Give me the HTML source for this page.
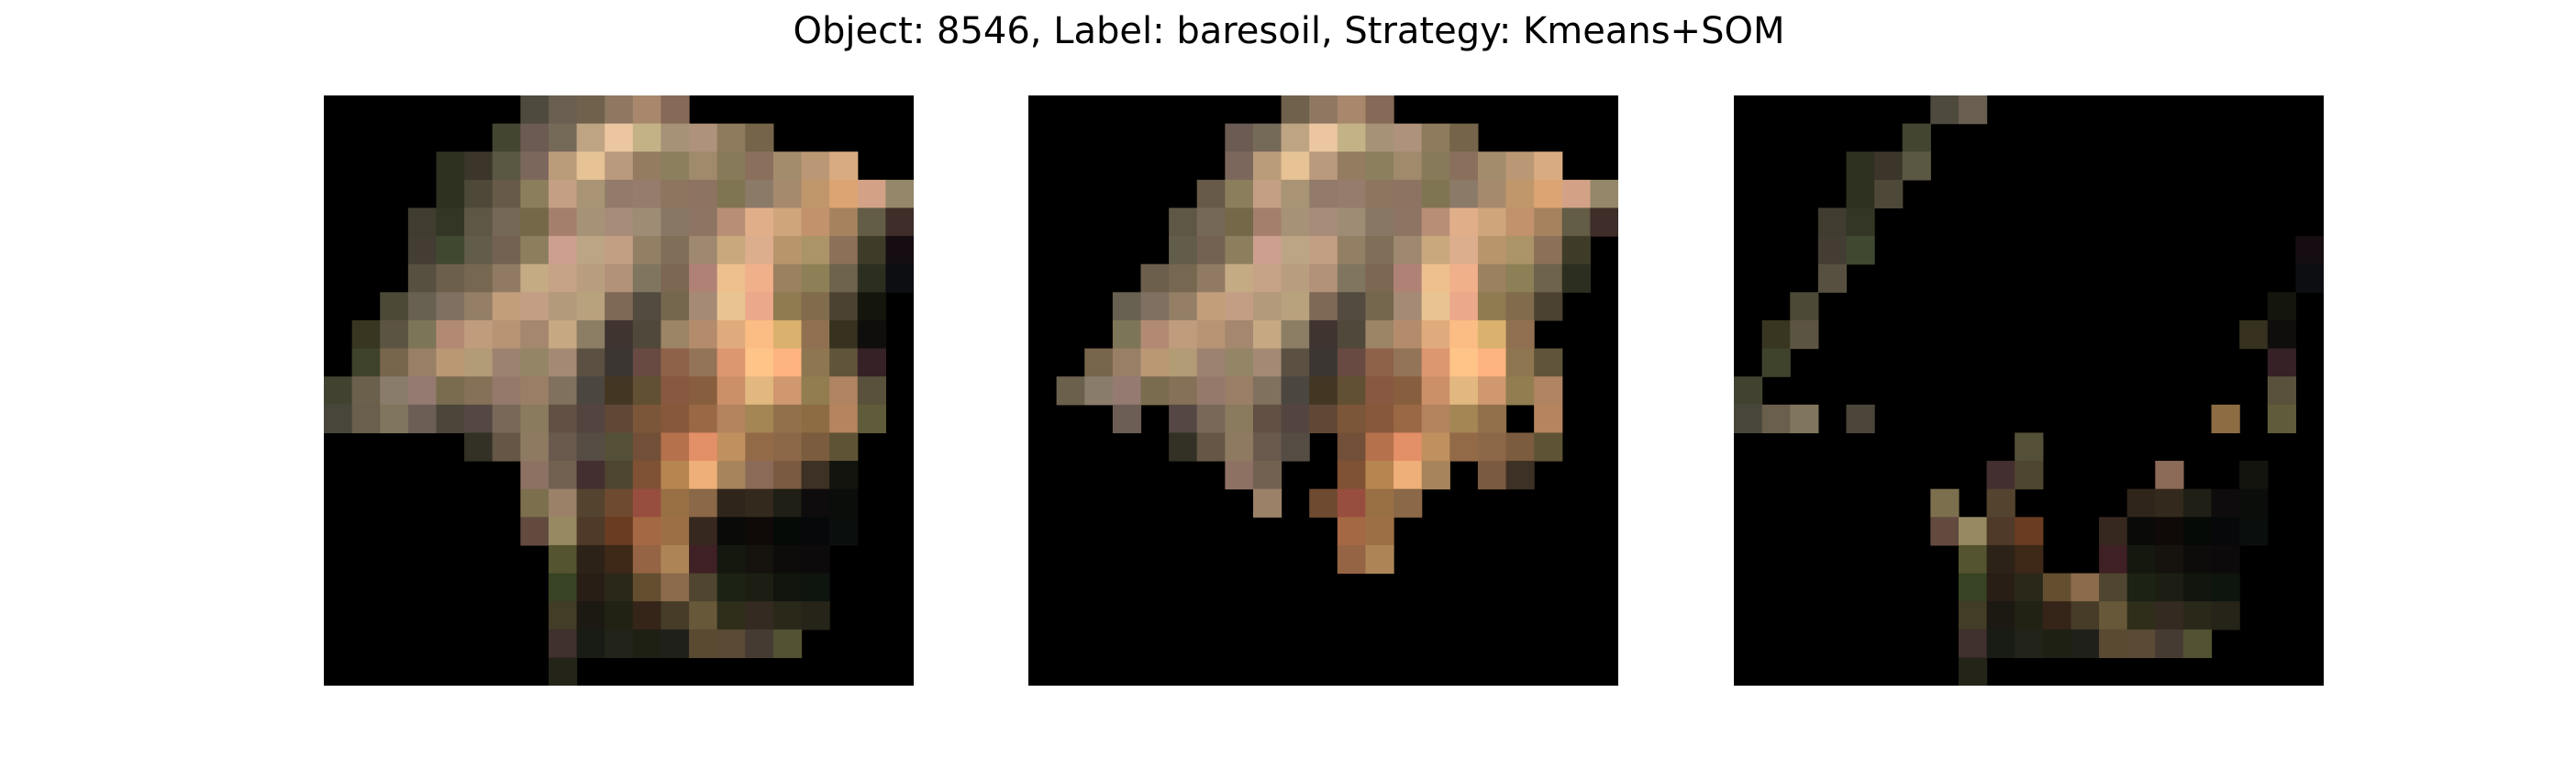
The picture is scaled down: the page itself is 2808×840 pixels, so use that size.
<!DOCTYPE html>
<html><head><meta charset="utf-8"><style>
html,body{margin:0;padding:0;background:#fff;width:2808px;height:840px;overflow:hidden}
</style></head><body>
<svg id="fig" width="2808" height="840" xmlns="http://www.w3.org/2000/svg">
<rect width="2808" height="840" fill="#fff"/>
<text x="1405" y="47" text-anchor="middle" font-family="DejaVu Sans, Liberation Sans, sans-serif" font-size="40" fill="#000">Object: 8546, Label: baresoil, Strategy: Kmeans+SOM</text>
</svg>
<script>
// per row: columns of kept pixels and outlier pixels (ranges "a-b")
const keptCols = [
"9-12","7-15","7-18","6-20","5-20","5-19","4-19","3-18","3-17","2-18","1-18",
"3,5-16,18","5-9,11-18","7,8,11-14,16,17","8,10-13","11,12","11,12","","","",""
];
const outlierCols = [
"7,8","6","4-6","4,5","3,4","3,4,20","3,20","2,19","1,2,18,19","1,19","0,19",
"0-2,4,17,19","10","9,10,15,18","7,9,14-18","7-10,13-18","8-10,13-17","8-17","8-17","8-16","8"
];
// colours of all non-empty pixels per row, in column order
const colorRows = [
"4f4a3e 6a5e50 6f614c 8e7862 a8876c 876958",
"444530 6b5b52 756958 bea482 ecc6a0 c4b287 a69276 ae927c 8e7a5c 75644a",
"2e3020 3c352a 5a5843 7b675c bb9c7a e6c294 ba9a7e 937c60 8c7f5e a08a6c 877a5a 8a705c a28c6c bb9875 d9ab82",
"2e3020 4e4838 675a48 8a7e5c c49f84 a89474 927b6a 957c6c 8d755f 8d7362 807552 8c7a68 a68a6e c0976a dca472 d3a286 958769",
"403d30 333525 5f5746 766856 746849 a37f6c a69276 a78c7a 9e8c74 887764 8e7462 b88f76 e0af8a cfa67c c1926c a6835e 635c46 3e2d28",
"433d33 404830 625c4a 736252 8d7f5e cd9f90 bba584 c29e82 937f64 806e58 9f8870 caa87e ddae8e b9956c ab9468 8d7058 3e3c28 150d12",
"575040 6c5f4c 766850 907a64 c5ab84 c6a286 b89e7e b29278 807660 7c6752 b08276 edc08e f0b08a 9c8160 8e8056 6e634c 2c2e20 0d0e12",
"4c4a36 686050 7f7062 947f66 c29e7a c49e84 b29a7a b8a27e 7e6856 534a40 75664e a58a76 e8c492 eca88a 8f7b50 806c4c 4b4232 14160e",
"383620 5c5442 7d7558 b28a74 c09c7c b89474 a4876e c6a882 8c7e64 3f3430 50483a 9c8466 b48c6c e0ab7c fcbd84 dab26e 907050 36321f 100e0c",
"3f432c 77654c 987f66 ba9874 b29c76 9c8270 948566 a48a74 5c5042 3c3632 684a42 8e6248 947458 dc9670 fec488 fdb380 8e7650 60553b 352126",
"414330 6a604c 8a7c6a 947a70 7a6c4e 857058 957a6c 9a7e66 80705e 4c4640 433622 625034 885840 875f3e cc9068 e2b880 cf986e 917d50 b08462 59513b",
"48463a 6a5e4c 80765e 6c5e54 4c463a 554844 796858 8a7a5e 625044 544440 614836 7c5638 87583a 9a6844 b3835e a48654 92704c 8d6c44 b6845e 5f5b3b",
"333126 655646 8e7a60 6a5a4e 554c44 545038 724f38 b5714c e38f68 c0905e 936a48 8c6848 7c5c3e 5e5334",
"8d7264 726150 432e30 4e4530 805234 b78550 eeb078 a8845c 8c6a58 7a5a40 3d3024 14140e",
"7c6f4e 9a8168 54432f 6e4a30 984e3e 997044 8a6848 30251a 33291c 1f1f16 0e0c0c 0a0d0a",
"634a3f 978a62 4f3a2a 6a3c22 a56844 9c7044 36281e 0a0a08 0f0a08 060a06 07080a 0a0e0c",
"545530 2d2218 3e2818 956444 ac8456 3f2024 14180e 16120e 0e0c0a 0c0a0a",
"384324 281e16 2a2818 634f30 8c6a4c 4f4530 1c2214 1c1e14 12140e 0e140e",
"433c26 1c1812 222214 352418 463c28 665838 2e2e1a 352a22 2a2818 262418",
"40302e 181c14 22241a 1f2014 20201a 5a4a32 5a4a36 453b32 525232",
"242418"
];
const panelNames = ["original-image", "kept-pixels-image", "outlier-pixels-image"];
const panelShow = [["k","o"], ["k"], ["o"]];

const NS = "http://www.w3.org/2000/svg";
const svg = document.getElementById('fig');
const nGrid = 21;
const panelX = [353, 1121, 1890], panelY = 104, panelSize = 643;
const cell = panelSize / nGrid;
function xPos(p, c){ return panelX[p] + c * cell; }
function yPos(r){ return panelY + r * cell; }
function parseCols(s){
  const out = [];
  if (!s) return out;
  s.split(',').forEach(part => {
    if (part.includes('-')) { const [a,b] = part.split('-').map(Number); for (let i=a;i<=b;i++) out.push(i); }
    else out.push(Number(part));
  });
  return out;
}
// build per-row cell type map
const typeMap = [];
for (let r = 0; r < nGrid; r++) {
  const row = new Array(nGrid).fill(null);
  parseCols(keptCols[r]).forEach(c => row[c] = 'k');
  parseCols(outlierCols[r]).forEach(c => row[c] = 'o');
  typeMap.push(row);
}

for (let p = 0; p < 3; p++) {
  const g = document.createElementNS(NS, 'g');
  
  
  const bg = document.createElementNS(NS, 'rect');
  
  
  bg.setAttribute('x', panelX[p]); bg.setAttribute('y', panelY);
  bg.setAttribute('width', panelSize); bg.setAttribute('height', panelSize);
  bg.setAttribute('fill', '#000');
  g.appendChild(bg);
  for (let r = 0; r < nGrid; r++) {
    const cols = colorRows[r].split(' ');
    let k = 0;
    for (let c = 0; c < nGrid; c++) {
      const t = typeMap[r][c];
      if (!t) continue;
      const col = cols[k++];
      if (!panelShow[p].includes(t) || !col) continue;
      const rc = document.createElementNS(NS, 'rect');
      
      
      rc.setAttribute('x', xPos(p, c).toFixed(2));
      rc.setAttribute('y', yPos(r).toFixed(2));
      rc.setAttribute('width', (Math.min(cell + 0.6, panelX[p] + panelSize - xPos(p, c))).toFixed(2));
      rc.setAttribute('height', (Math.min(cell + 0.6, panelY + panelSize - yPos(r))).toFixed(2));
      rc.setAttribute('fill', '#' + col);
      g.appendChild(rc);
    }
  }
  svg.appendChild(g);
}
</script>
</body></html>
